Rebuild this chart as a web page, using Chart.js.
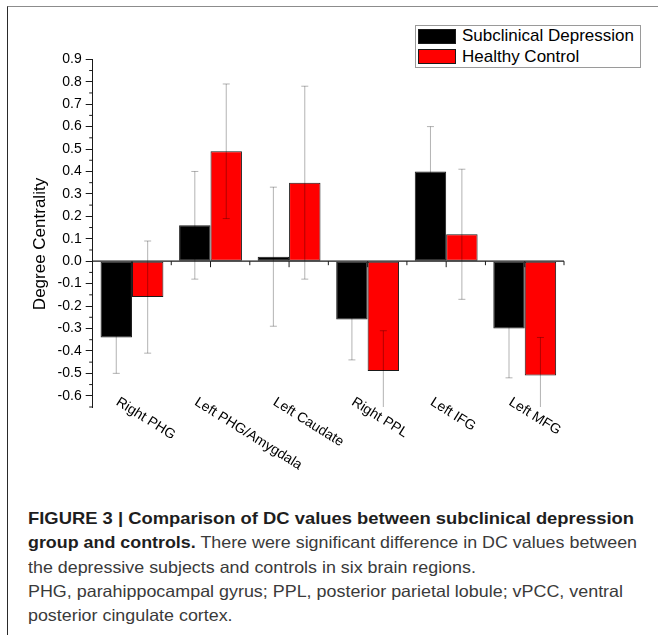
<!DOCTYPE html>
<html lang="en">
<head>
    <meta charset="UTF-8">
    <title>Degree Centrality</title>
    <script src="https://cdn.jsdelivr.net/npm/chart.js@4.4.0/dist/chart.umd.min.js"></script>
    <style>
        * {
            margin: 0;
            padding: 0;
            box-sizing: border-box;
        }

        body {
            width: 658px;
            height: 635px;
            background: #fff;
            position: relative;
            overflow: hidden;
            font-family: 'Liberation Sans', Arial, sans-serif;
        }

        .frame {
            position: absolute;
            left: 7px;
            top: 6px;
            width: 660px;
            height: 640px;
            border-top: 1px solid #8c8c8c;
            border-left: 1px solid #2a2a2a;
        }

        .chart-box {
            position: absolute;
            left: 0;
            top: 0;
            width: 658px;
            height: 480px;
        }

        #legend {
            position: absolute;
            left: 415px;
            top: 25px;
            width: 226px;
            height: 43px;
            border: 1px solid #9a9a9a;
            background: #fff;
        }

        .swatch {
            position: absolute;
            left: 1.7px;
            width: 38px;
            height: 15px;
            border: 1px solid #1a1a1a;
        }

        .legend-text {
            position: absolute;
            left: 46px;
            font-size: 17px;
            line-height: 20px;
            color: #000;
            white-space: nowrap;
        }

        .caption {
            position: absolute;
            left: 28px;
            top: 506px;
            font-family: 'Liberation Sans', Arial, sans-serif;
            font-size: 16.5px;
            line-height: 24.3px;
            color: #3a3a3a;
        }

        .caption .line {
            display: block;
            white-space: nowrap;
        }

        .caption .line span {
            display: inline-block;
            transform-origin: 0 50%;
        }

        .caption b {
            color: #1e1e1e;
        }
    </style>
</head>
<body>
    <div class="frame"></div>
    <div class="chart-box">
        <canvas id="dcChart" width="658" height="480"></canvas>
    </div>
    <div id="legend"></div>

    <div class="caption">
        <div class="line"><span><b>FIGURE 3 | Comparison of DC values between subclinical depression</b></span></div>
        <div class="line"><span><b>group and controls.</b> There were significant difference in DC values between</span></div>
        <div class="line"><span>the depressive subjects and controls in six brain regions.</span></div>
        <div class="line"><span>PHG, parahippocampal gyrus; PPL, posterior parietal lobule; vPCC, ventral</span></div>
        <div class="line"><span>posterior cingulate cortex.</span></div>
    </div>

    <script>
        // datos
        const regions = ['Right PHG', 'Left PHG/Amygdala', 'Left Caudate', 'Right PPL', 'Left IFG', 'Left MFG'];
        const seriesNames = ['Subclinical Depression', 'Healthy Control'];
        const seriesColors = ['#000000', '#ff0000'];
        const sdValues = [-0.34, 0.16, 0.02, -0.26, 0.40, -0.30];
        const sdErrors = [0.16, 0.24, 0.31, 0.18, 0.20, 0.22];
        const hcValues = [-0.16, 0.49, 0.35, -0.49, 0.12, -0.51];
        const hcErrors = [0.25, 0.30, 0.43, 0.18, 0.29, 0.17];
        // ancho de las lineas completas del pie (null = mismo factor que la linea 2)
        const captionWidths = [606, 609, null, 595, null];

        const FONT = "'Liberation Sans', Arial, sans-serif";

        // leyenda
        const legend = document.getElementById('legend');
        seriesNames.forEach((name, i) => {
            const sw = document.createElement('div');
            sw.className = 'swatch';
            sw.style.top = (2.7 + i * 20.6) + 'px';
            sw.style.background = seriesColors[i];
            legend.appendChild(sw);
            const tx = document.createElement('div');
            tx.className = 'legend-text';
            tx.style.top = (0 + i * 21) + 'px';
            tx.textContent = name;
            legend.appendChild(tx);
        });

        // ajustar ancho de las lineas del pie
        const capLines = document.querySelectorAll('.caption .line span');
        const baseScale = captionWidths[1] / capLines[1].getBoundingClientRect().width;
        capLines.forEach((el, i) => {
            const w = el.getBoundingClientRect().width;
            const s = captionWidths[i] ? captionWidths[i] / w : baseScale;
            el.style.transform = `scaleX(${s})`;
        });

        const overlay = {
            id: 'overlay',
            afterDatasetsDraw(chart) {
                const { ctx, chartArea: a, scales: { x, y } } = chart;
                const errs = [sdErrors, hcErrors];

                // barras de error
                ctx.save();
                ctx.beginPath();
                ctx.rect(a.left, a.top, a.right - a.left, a.bottom - a.top);
                ctx.clip();
                ctx.strokeStyle = 'rgba(0,0,0,0.3)';
                ctx.lineWidth = 1;
                chart.data.datasets.forEach((ds, di) => {
                    chart.getDatasetMeta(di).data.forEach((bar, i) => {
                        const hi = y.getPixelForValue(ds.data[i] + errs[di][i]);
                        const lo = y.getPixelForValue(ds.data[i] - errs[di][i]);
                        ctx.beginPath();
                        ctx.moveTo(bar.x, hi);
                        ctx.lineTo(bar.x, lo);
                        ctx.moveTo(bar.x - 3.5, hi);
                        ctx.lineTo(bar.x + 3.5, hi);
                        ctx.moveTo(bar.x - 3.5, lo);
                        ctx.lineTo(bar.x + 3.5, lo);
                        ctx.stroke();
                    });
                });
                ctx.restore();

                ctx.save();
                const y0 = y.getPixelForValue(0);
                ctx.strokeStyle = '#1a1a1a';

                // eje x en cero
                ctx.lineWidth = 1.3;
                ctx.beginPath();
                ctx.moveTo(a.left, y0);
                ctx.lineTo(a.right, y0);
                ctx.stroke();

                // marcas del eje x
                ctx.lineWidth = 1;
                const half = (x.getPixelForValue(1) - x.getPixelForValue(0)) / 2;
                regions.forEach((r, i) => {
                    const cx = x.getPixelForValue(i);
                    ctx.beginPath();
                    ctx.moveTo(cx, y0);
                    ctx.lineTo(cx, y0 + 6);
                    ctx.moveTo(cx + half, y0);
                    ctx.lineTo(cx + half, y0 + 4);
                    ctx.stroke();
                });

                // marcas menores del eje y
                const t = y.ticks.map(k => k.value);
                const minors = [y.min].concat(t.slice(0, -1).map((v, i) => (v + t[i + 1]) / 2));
                minors.forEach(v => {
                    const py = y.getPixelForValue(v);
                    ctx.beginPath();
                    ctx.moveTo(a.left - 3.5, py);
                    ctx.lineTo(a.left, py);
                    ctx.stroke();
                });

                // etiquetas de categorias
                ctx.fillStyle = '#000';
                ctx.font = '14px ' + FONT;
                ctx.textAlign = 'left';
                ctx.textBaseline = 'top';
                regions.forEach((r, i) => {
                    const cx = x.getPixelForValue(i);
                    ctx.save();
                    ctx.translate(cx - 11, a.bottom - 12);
                    ctx.rotate(32 * Math.PI / 180);
                    ctx.fillText(r, 0, 0);
                    ctx.restore();
                });

                // titulo del eje y
                ctx.font = '17px ' + FONT;
                ctx.textAlign = 'center';
                ctx.textBaseline = 'alphabetic';
                ctx.translate(45, 244);
                ctx.rotate(-Math.PI / 2);
                ctx.fillText('Degree Centrality', 0, 0);
                ctx.restore();
            }
        };

        new Chart(document.getElementById('dcChart').getContext('2d'), {
            type: 'bar',
            data: {
                labels: regions,
                datasets: [
                    {
                        label: seriesNames[0],
                        data: sdValues,
                        backgroundColor: seriesColors[0],
                        borderColor: '#1a1a1a',
                        borderWidth: 1,
                        borderSkipped: false,
                        categoryPercentage: 0.8,
                        barPercentage: 1.0
                    },
                    {
                        label: seriesNames[1],
                        data: hcValues,
                        backgroundColor: seriesColors[1],
                        borderColor: '#1a1a1a',
                        borderWidth: 1,
                        borderSkipped: false,
                        categoryPercentage: 0.8,
                        barPercentage: 1.0
                    }
                ]
            },
            options: {
                responsive: false,
                animation: false,
                devicePixelRatio: 1,
                layout: {
                    padding: { left: 28.4, top: 59.3, right: 94, bottom: 73 }
                },
                plugins: {
                    legend: { display: false },
                    tooltip: { enabled: false }
                },
                scales: {
                    x: {
                        offset: true,
                        grid: { display: false },
                        border: { display: false },
                        ticks: { display: false },
                        afterFit: s => { s.height = 0; }
                    },
                    y: {
                        min: -0.65,
                        max: 0.9,
                        grid: {
                            drawOnChartArea: false,
                            tickLength: 7,
                            tickColor: '#1a1a1a',
                            tickWidth: 1
                        },
                        border: { color: '#1a1a1a', width: 1 },
                        ticks: {
                            stepSize: 0.1,
                            includeBounds: false,
                            padding: 4,
                            color: '#000',
                            font: { family: FONT, size: 14 },
                            callback: v => v.toFixed(1)
                        },
                        afterFit: s => { s.width = 64.3; }
                    }
                }
            },
            plugins: [overlay]
        });
    </script>
</body>
</html>
